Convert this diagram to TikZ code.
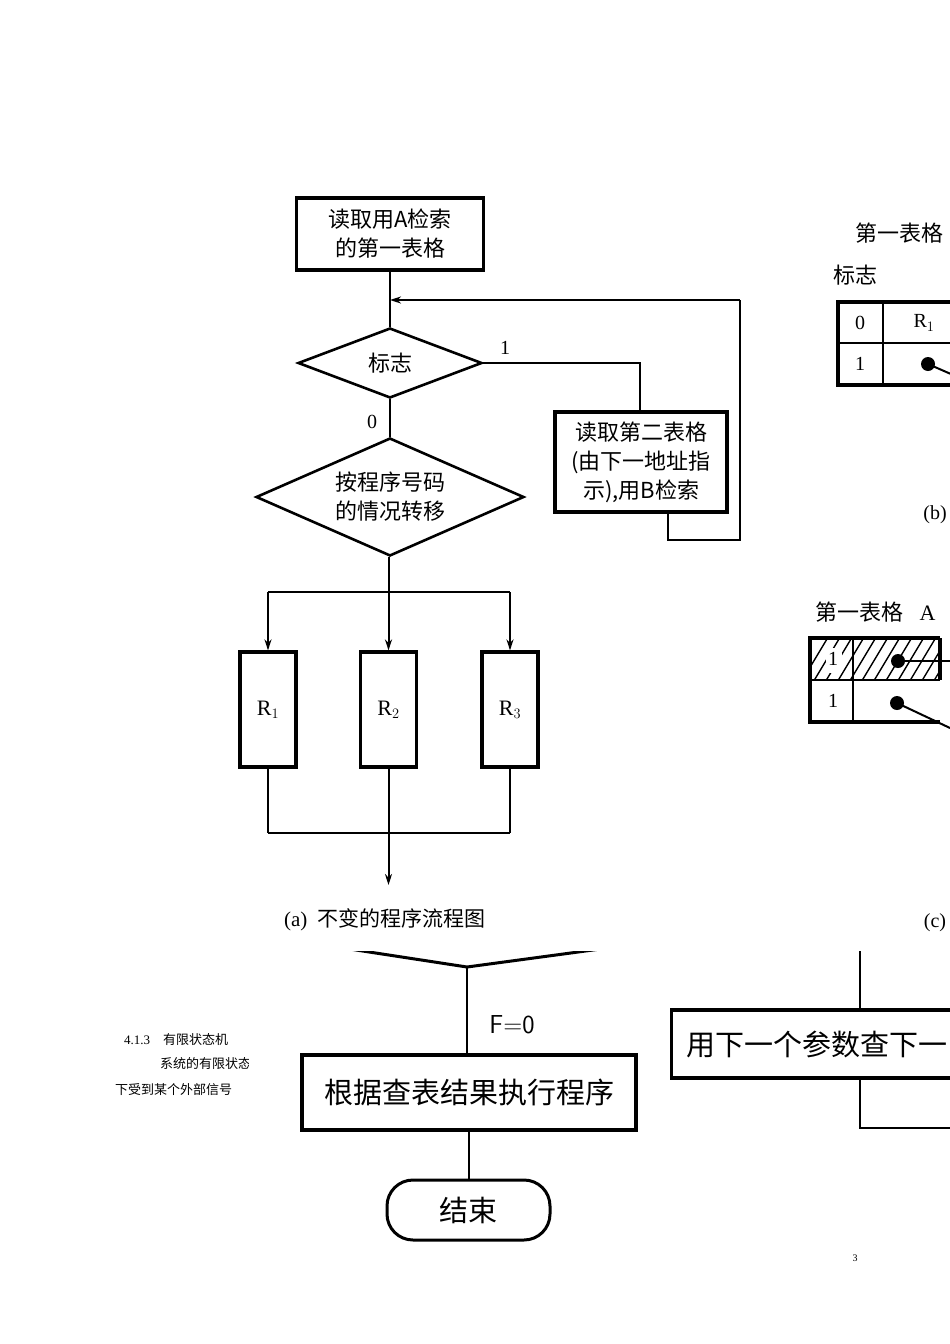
\documentclass[tikz,border=0pt]{standalone}
\usepackage{fontspec}
\setmainfont{Liberation Serif}
\newfontfamily\cjk{Noto Sans CJK SC}
\usetikzlibrary{arrows.meta,shapes.geometric}
\begin{document}
\begin{tikzpicture}[x=1pt,y=-1pt,
  ln/.style={line width=2pt},
  bx/.style={draw,line width=3.2pt,inner sep=0pt},
  arr/.style={ln,-{Stealth[length=11pt,width=7pt]}},
  lbl/.style={inner sep=0pt,font=\fontsize{20}{22}\selectfont}]
\useasboundingbox (0,0) rectangle (950,1344);
% ---------- (a)
\node[bx,minimum width=187,minimum height=72,align=center,font=\cjk\fontsize{22}{29}\selectfont] (b1) at (390,234) {读取用A检索\\的第一表格};
\node[draw,line width=2.6pt,diamond,minimum width=184,minimum height=70,aspect=2.6,inner sep=0pt,font=\cjk\fontsize{22}{24}\selectfont] (d1) at (390,363) {标志};
\node[bx,minimum width=172,minimum height=100,align=center,font=\cjk\fontsize{22}{29}\selectfont] (b2) at (641,462) {读取第二表格\\(由下一地址指\\示),用B检索};
\node[draw,line width=2.6pt,diamond,minimum width=268,minimum height=118,aspect=2.3,inner sep=0pt,align=center,font=\cjk\fontsize{22}{29}\selectfont] (d2) at (390,497) {按程序号码\\的情况转移};
\foreach \n/\x/\i in {r1/268/1,r2/388.5/2,r3/510/3}
  \node[bx,minimum width=56,minimum height=115,font=\fontsize{22}{24}\selectfont] (\n) at (\x,709.5) {R$_{\i}$};
\coordinate (m1) at (390,300);
\coordinate (c1) at (740,300);
\coordinate (c2) at (740,540);
\coordinate (c3) at (668,540);
\coordinate (s1) at (388.5,592);
\coordinate (j1) at (388.5,833);
\coordinate (e1) at (388.5,885);
\draw[ln] (b1.south) -- (d1.north);
\draw[ln] (b2.south -| c3) -- (c3) -- (c2) -- (c1);
\draw[arr] (c1) -- (m1);
\draw[ln] (d1.east) -- (640,363) -- (b2.north -| 640,0);
\node[lbl] at (505,348) {1};
\node[lbl] at (372,422) {0};
\draw[ln] (d1.south) -- (d2.north);
\draw[ln] (d2.south -| s1) -- (s1);
\draw[ln] (r1.north |- s1) -- (r3.north |- s1);
\foreach \n in {r1,r2,r3} \draw[arr] (\n.north |- s1) -- (\n.north);
\foreach \n in {r1,r3} \draw[ln] (\n.south) -- (\n.south |- j1);
\draw[ln] (r1.south |- j1) -- (r3.south |- j1);
\draw[arr] (r2.south) -- (e1);
\node[inner sep=0pt,font=\fontsize{21}{24}\selectfont] (capa) at (385,920) {(a)\ \ {\cjk 不变的程序流程图}};
% ---------- (b),(c) clipped
\begin{scope}
\clip (780,180) rectangle (950,950);
\node[anchor=west,inner sep=0pt,font=\cjk\fontsize{22}{24}\selectfont] (t1) at (855,233) {第一表格};
\node[anchor=west,inner sep=0pt,font=\cjk\fontsize{22}{24}\selectfont] (t2) at (833,275) {标志};
\draw[line width=3.2pt] (980,302) -- (838,302) -- (838,385) -- (980,385);
\draw[ln] (838,343) -- (980,343);
\draw[line width=2.6pt] (883,302) -- (883,385);
\node[lbl] at (860,323) {0};
\node[lbl] at (860,364) {1};
\node[lbl] at (924,323) {R$_1$};
\fill (928,364) circle (7);
\draw[ln] (928,364) -- (960,378);
\node[lbl] at (935,515) {(b)};
\node[anchor=west,inner sep=0pt,font=\fontsize{22}{24}\selectfont] (t3) at (815,612) {{\cjk 第一表格}\ \ \ A};
\begin{scope}
\clip (810,638) rectangle (940,680);
\foreach \k in {0,...,14} \draw[line width=1.4pt] (800+\k*12,684) -- (830+\k*12,634);
\end{scope}
\fill[white] (826,648) rectangle (842,673);
\draw[line width=3.2pt] (940,638) -- (810,638) -- (810,722) -- (940,722);
\draw[line width=3.2pt] (940,638) -- (940,680);
\draw[ln] (810,680) -- (940,680);
\draw[line width=2.6pt] (853,638) -- (853,722);
\node[lbl] at (833,659) {1};
\node[lbl] at (833,701) {1};
\fill (898,661) circle (7);
\draw[ln] (898,661) -- (950,661);
\fill (897,703) circle (7);
\draw[ln] (897,703) -- (950,728);
\node[lbl] at (935,923) {(c)};
\end{scope}
% ---------- bottom clipped figure
\begin{scope}
\clip (250,951) rectangle (950,1260);
\draw[line width=3pt] (330,946) -- (467,967) -- (630,945);
\node[bx,minimum width=334,minimum height=75,font=\cjk\fontsize{29}{32}\selectfont] (b3) at (469,1092.5) {根据查表结果执行程序};
\node[draw,line width=3pt,rounded corners=26pt,minimum width=163,minimum height=60,font=\cjk\fontsize{29}{32}\selectfont] (end) at (468.5,1210) {结束};
\coordinate (ap) at (467,967);
\draw[ln] (ap) -- (b3.north -| ap);
\draw[ln] (b3.south -| end) -- (end.north);
\node[inner sep=0pt,font=\fontsize{26}{28}\selectfont\sffamily] at (512,1025) {F=0};
\node[bx,anchor=west,minimum width=300,minimum height=68] (b4) at (670,1044) {};
\node[anchor=west,inner sep=0pt,font=\cjk\fontsize{29}{32}\selectfont] (b4t) at (686,1044) {用下一个参数查下一};
\draw[ln] (860,951) -- (b4.north -| 860,0);
\draw[ln] (b4.south -| 860,0) -- (860,1128) -- (960,1128);
\end{scope}
\begin{scope}
\clip (100,1020) rectangle (248,1110);
\node[anchor=west,inner sep=0pt,font=\cjk\fontsize{13}{15}\selectfont] at (124,1040) {\fontspec{Liberation Serif}4.1.3\quad\cjk 有限状态机};
\node[anchor=west,inner sep=0pt,font=\cjk\fontsize{13}{15}\selectfont] at (160,1064) {系统的有限状态};
\node[anchor=west,inner sep=0pt,font=\cjk\fontsize{13}{15}\selectfont] at (115,1090) {下受到某个外部信号};
\end{scope}
\node[inner sep=0pt,font=\fontsize{10}{12}\selectfont] at (855,1258) {3};
\end{tikzpicture}
\end{document}
